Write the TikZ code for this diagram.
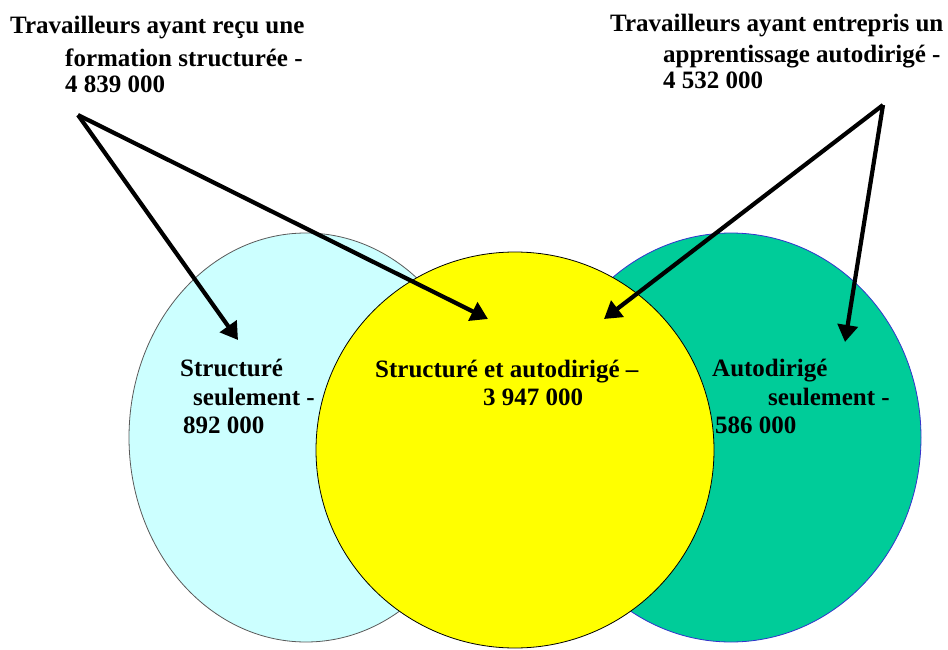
\documentclass[tikz,border=0pt]{standalone}
\usepackage{fontspec}
\setmainfont{Liberation Serif}
\usetikzlibrary{arrows.meta,shapes.geometric}
\definecolor{lcyan}{HTML}{CCFFFF}
\definecolor{teal2}{HTML}{00CC99}
\definecolor{tealedge}{HTML}{3333CC}
\definecolor{yel}{HTML}{FFFF00}
\tikzset{
  lbl/.style={anchor=base west,inner sep=0pt,font=\fontsize{25}{29}\selectfont\bfseries},
  blob/.style={ellipse,inner sep=0pt,line width=0.8pt},
  arr/.style={line width=4.2pt,-{Triangle[length=17pt,width=20pt]}}
}
\begin{document}
\begin{tikzpicture}[x=1pt,y=-1pt]
\useasboundingbox (0,0) rectangle (948,650);
\node[blob,draw=gray!70!black,fill=lcyan,minimum width=354pt,minimum height=409pt] (left) at (306,437.5) {};
\node[blob,draw=tealedge,fill=teal2,minimum width=380pt,minimum height=409pt] (right) at (731,437.5) {};
\node[blob,draw=black,fill=yel,minimum width=398pt,minimum height=396pt] (mid) at (515,450) {};
% top labels
\node[lbl] (t1) at (10,34) {Travailleurs ayant reçu une};
\node[lbl] (t2) at (65,67) {formation structurée -};
\node[lbl] (t3) at (65,93) {4 839 000};
\node[lbl] (r1) at (610,32) {Travailleurs ayant entrepris un};
\node[lbl] (r2) at (663,63) {apprentissage autodirigé -};
\node[lbl] (r3) at (663,89) {4 532 000};
% circle labels
\node[lbl] (s1) at (180,376) {Structuré};
\node[lbl] (s2) at (193,405) {seulement -};
\node[lbl] (s3) at (183,433) {892 000};
\node[lbl] (m1) at (375,377) {Structuré et autodirigé –};
\node[lbl] (m2) at (483,405) {3 947 000};
\node[lbl] (a1) at (712,376) {Autodirigé};
\node[lbl] (a2) at (768,405) {seulement -};
\node[lbl] (a3) at (715,433) {586 000};
% arrows
\coordinate (srcL) at (78,115);
\coordinate (srcR) at (883,105);
\coordinate (tL1) at (238,340);
\coordinate (tL2) at (488,319);
\coordinate (tR1) at (604,319);
\coordinate (tR2) at (845,342);
\draw[arr] (srcL) -- (tL1);
\draw[arr] (srcL) -- (tL2);
\draw[arr] (srcR) -- (tR1);
\draw[arr] (srcR) -- (tR2);
\end{tikzpicture}
\end{document}
